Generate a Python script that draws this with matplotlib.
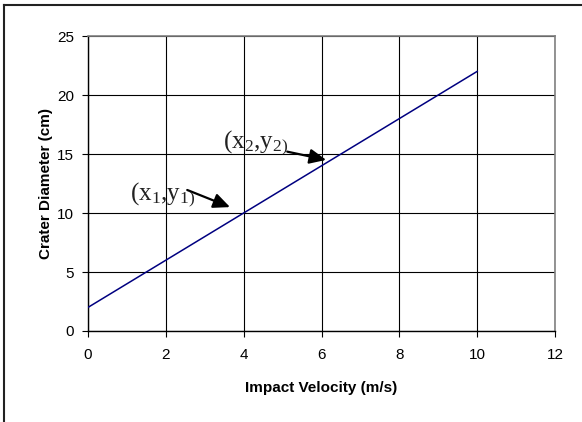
import matplotlib
matplotlib.use("Agg")
import matplotlib.pyplot as plt
from matplotlib.lines import Line2D

velocity = [0, 1, 2, 3, 4, 5, 6, 7, 8, 9, 10]
diameter = [2, 4, 6, 8, 10, 12, 14, 16, 18, 20, 22]
x_ticks = [0, 2, 4, 6, 8, 10, 12]
y_ticks = [0, 5, 10, 15, 20, 25]

plt.rcParams['mathtext.fontset'] = 'custom'
plt.rcParams['mathtext.rm'] = 'Liberation Serif'
plt.rcParams['mathtext.it'] = 'Liberation Serif:italic'

fig = plt.figure(figsize=(5.82, 4.22), dpi=100)
W, H = 582, 422
ax = fig.add_axes([88 / W, 1 - 331 / H, (555 - 88) / W, (331 - 36) / H])

ax.plot(velocity, diameter, color='#000080', lw=1.1, zorder=3)
ax.set_xlim(0, 12)
ax.set_ylim(0, 25)
ax.set_xticks(x_ticks)
ax.set_yticks(y_ticks)
ax.grid(True, color='black', lw=0.8)
ax.set_axisbelow(True)
for s in ['top', 'right']:
    ax.spines[s].set_color('#808080')
    ax.spines[s].set_linewidth(1.2)
for s in ['left', 'bottom']:
    ax.spines[s].set_color('black')
    ax.spines[s].set_linewidth(1.0)
ax.tick_params(direction='out', length=4, width=0.8, labelsize=11)
ax.tick_params(axis='x', pad=8)
ax.tick_params(axis='y', pad=6)
for lab in ax.get_xticklabels() + ax.get_yticklabels():
    lab.set_fontfamily('Liberation Sans')

ax.set_xlabel('Impact Velocity (m/s)', fontfamily='Liberation Sans', fontweight='bold',
              fontsize=11, labelpad=14)
ax.set_ylabel('Crater Diameter (cm)', fontfamily='Liberation Sans', fontweight='bold',
              fontsize=11, labelpad=3)

ax.text(1.08, 11.1, r'$\mathregular{(x_1{,}y_{1)}}$', fontsize=18, color='#222222',
        fontfamily='Liberation Serif', zorder=5)
ax.text(3.47, 15.5, r'$\mathregular{(x_2{,}y_{2)}}$', fontsize=18, color='#222222',
        fontfamily='Liberation Serif', zorder=5)
arrow = dict(arrowstyle='-|>,head_length=1.0,head_width=0.45', color='black', lw=1.6,
             shrinkA=0, shrinkB=0)
ax.annotate('', xy=(3.65, 10.5), xytext=(2.55, 11.95), arrowprops=arrow)
ax.annotate('', xy=(6.12, 14.5), xytext=(5.12, 15.2), arrowprops=arrow)

# outer frame (top and left edges)
fig.add_artist(Line2D([4 / W, 1], [1 - 5 / H, 1 - 5 / H], color='#222222', lw=1.5, transform=fig.transFigure))
fig.add_artist(Line2D([4 / W, 4 / W], [0, 1 - 5 / H], color='#222222', lw=1.5, transform=fig.transFigure))

fig.savefig('out.png', dpi=100)
